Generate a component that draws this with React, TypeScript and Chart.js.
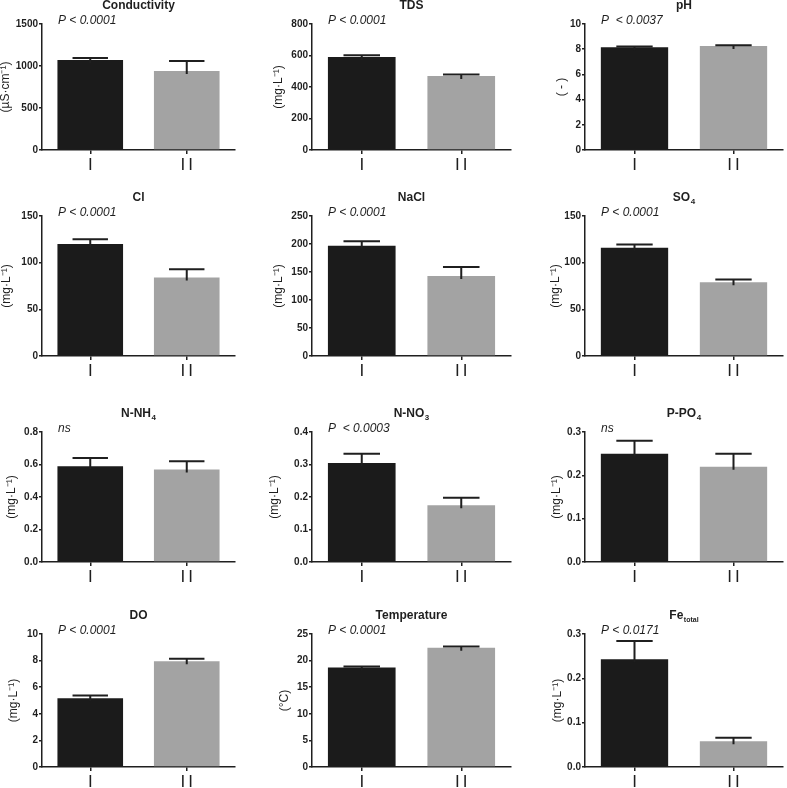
import React, { useEffect, useRef } from 'react';
import { Chart, registerables } from 'chart.js';

Chart.register(...registerables);

// ---------- data ----------
const GROUPS = ['I', 'II'];
const PARAM_NAMES = ['Conductivity', 'TDS', 'pH', 'Cl', 'NaCl', 'SO', 'N-NH', 'N-NO', 'P-PO', 'DO', 'Temperature', 'Fe'];
const PARAM_SUBS = ['', '', '', '', '', '4', '4', '3', '4', '', '', 'total'];
const MEAN_I = [1070, 590, 8.15, 120, 197, 116, 0.59, 0.305, 0.25, 5.17, 18.7, 0.243];
const MEAN_II = [940, 470, 8.25, 84, 143, 79, 0.57, 0.175, 0.22, 7.95, 22.4, 0.058];
const ERR_I = [25, 12, 0.06, 5, 8, 3.5, 0.05, 0.028, 0.03, 0.2, 0.2, 0.041];
const ERR_II = [120, 10, 0.06, 9, 16, 3, 0.05, 0.023, 0.03, 0.18, 0.25, 0.008];
const Y_MAX = [1500, 800, 10, 150, 250, 150, 0.8, 0.4, 0.3, 10, 25, 0.3];
const Y_STEP = [500, 200, 2, 50, 50, 50, 0.2, 0.1, 0.1, 2, 5, 0.1];
const Y_DECIMALS = [0, 0, 0, 0, 0, 0, 1, 1, 1, 0, 0, 1];
const P_LABELS = [
  'P < 0.0001', 'P < 0.0001', 'P  < 0.0037',
  'P < 0.0001', 'P < 0.0001', 'P < 0.0001',
  'ns', 'P  < 0.0003', 'ns',
  'P < 0.0001', 'P < 0.0001', 'P < 0.0171',
];
const Y_TITLES = [
  '(µS·cm⁻¹)', '(mg·L⁻¹)', '( - )',
  '(mg·L⁻¹)', '(mg·L⁻¹)', '(mg·L⁻¹)',
  '(mg·L⁻¹)', '(mg·L⁻¹)', '(mg·L⁻¹)',
  '(mg·L⁻¹)', '(°C)', '(mg·L⁻¹)',
];

// ---------- layout ----------
const COLS = [
  { x: 0, w: 236, yw: 42 },
  { x: 262, w: 250, yw: 50 },
  { x: 524, w: 260, yw: 61 },
];
const ROWS = [
  { y: 0, h: 178 },
  { y: 192, h: 192 },
  { y: 408, h: 182 },
  { y: 610, h: 185 },
];
const Y_TITLE_GAP = [36, 33, 23, 35, 33, 29, 30, 37, 28, 28, 27, 27];
const FONT = "'Liberation Sans', Arial, Helvetica, sans-serif";
const INK = '#1f1f1f';
const BAR_COLORS = ['#1b1b1b', '#a3a3a3'];

function Panel({ idx }: { idx: number }) {
  const ref = useRef<HTMLCanvasElement | null>(null);
  const col = COLS[idx % 3];
  const row = ROWS[Math.floor(idx / 3)];

  useEffect(() => {
    if (!ref.current) return;
    const means = [MEAN_I[idx], MEAN_II[idx]];
    const errs = [ERR_I[idx], ERR_II[idx]];

    const panelPlugin = {
      id: 'panelDecor' + idx,
      afterDatasetsDraw(chart: any) {
        const { ctx, chartArea } = chart;
        const ys = chart.scales.y;
        const xs = chart.scales.x;
        const meta = chart.getDatasetMeta(0);
        ctx.save();
        // error bars (upper)
        ctx.strokeStyle = INK;
        ctx.lineWidth = 2;
        meta.data.forEach((bar: any, i: number) => {
          const x = bar.x;
          const yb = ys.getPixelForValue(means[i]);
          const yt = ys.getPixelForValue(means[i] + errs[i]);
          const half = bar.width * 0.27;
          ctx.beginPath();
          ctx.moveTo(x, yb + 3);
          ctx.lineTo(x, yt);
          ctx.moveTo(x - half, yt);
          ctx.lineTo(x + half, yt);
          ctx.stroke();
        });
        // category labels (wide-spaced roman numerals)
        ctx.fillStyle = INK;
        ctx.textBaseline = 'middle';
        ctx.textAlign = 'left';
        ctx.font = `17px ${FONT}`;
        (ctx as any).letterSpacing = '3px';
        GROUPS.forEach((g, i) => {
          const x = xs.getPixelForValue(i);
          const w = ctx.measureText(g).width - 3;
          ctx.fillText(g, x - w / 2, chartArea.bottom + 15);
        });
        (ctx as any).letterSpacing = '0px';
        // title with optional subscript
        const cx = (chartArea.left + chartArea.right) / 2;
        const ty = chartArea.top - 18;
        const main = PARAM_NAMES[idx];
        const sub = PARAM_SUBS[idx];
        ctx.font = `bold 12px ${FONT}`;
        const mw = ctx.measureText(main).width;
        const subFont = sub.length > 1 ? `bold 7px ${FONT}` : `bold 8px ${FONT}`;
        ctx.font = subFont;
        const sw = sub ? ctx.measureText(sub).width + 0.5 : 0;
        const start = cx - (mw + sw) / 2;
        ctx.font = `bold 12px ${FONT}`;
        ctx.fillText(main, start, ty);
        if (sub) {
          ctx.font = subFont;
          ctx.fillText(sub, start + mw + 0.5, ty + 4);
        }
        // p-value
        ctx.font = `italic 12px ${FONT}`;
        ctx.fillText(P_LABELS[idx], chartArea.left + 16, chartArea.top - 3.5);
        // y title
        ctx.translate(chartArea.left - Y_TITLE_GAP[idx], (chartArea.top + chartArea.bottom) / 2);
        ctx.rotate(-Math.PI / 2);
        ctx.textAlign = 'center';
        ctx.font = `12px ${FONT}`;
        ctx.fillText(Y_TITLES[idx], 0, 0);
        ctx.restore();
      },
    };

    const dec = Y_DECIMALS[idx];
    const chart = new Chart(ref.current, {
      type: 'bar',
      data: {
        labels: GROUPS,
        datasets: [
          {
            data: means,
            backgroundColor: BAR_COLORS,
            borderWidth: 0,
            barPercentage: 0.68,
            categoryPercentage: 1,
          },
        ],
      },
      options: {
        responsive: false,
        animation: false,
        events: [],
        layout: { padding: { top: 24, left: 0, right: 1, bottom: 0 } },
        plugins: { legend: { display: false }, tooltip: { enabled: false }, title: { display: false } },
        scales: {
          x: {
            afterFit: (s: any) => { s.height = 28; },
            border: { display: true, color: INK, width: 1.5 },
            grid: { display: true, drawOnChartArea: false, drawTicks: true, tickLength: 4, color: INK, lineWidth: 1.5, offset: false },
            ticks: { display: false },
          },
          y: {
            min: 0,
            max: Y_MAX[idx],
            afterFit: (s: any) => { s.width = col.yw; },
            border: { display: true, color: INK, width: 1.5 },
            grid: { display: true, drawOnChartArea: false, drawTicks: true, tickLength: 3, color: INK, lineWidth: 1.5 },
            ticks: {
              stepSize: Y_STEP[idx],
              color: INK,
              padding: 1,
              font: { family: FONT, size: 10, weight: 'bold' },
              callback: (v: any) => Number(v).toFixed(dec),
            },
          },
        },
      },
      plugins: [panelPlugin],
    } as any);
    return () => chart.destroy();
  }, [idx]);

  return (
    <canvas
      ref={ref}
      width={col.w}
      height={row.h}
      style={{ position: 'absolute', left: col.x, top: row.y, width: col.w, height: row.h }}
    />
  );
}

export default function App() {
  return (
    <div style={{ position: 'fixed', left: 0, top: 0, width: 787, height: 788, overflow: 'hidden', background: '#fff' }}>
      {PARAM_NAMES.map((_, i) => (
        <Panel key={i} idx={i} />
      ))}
    </div>
  );
}
